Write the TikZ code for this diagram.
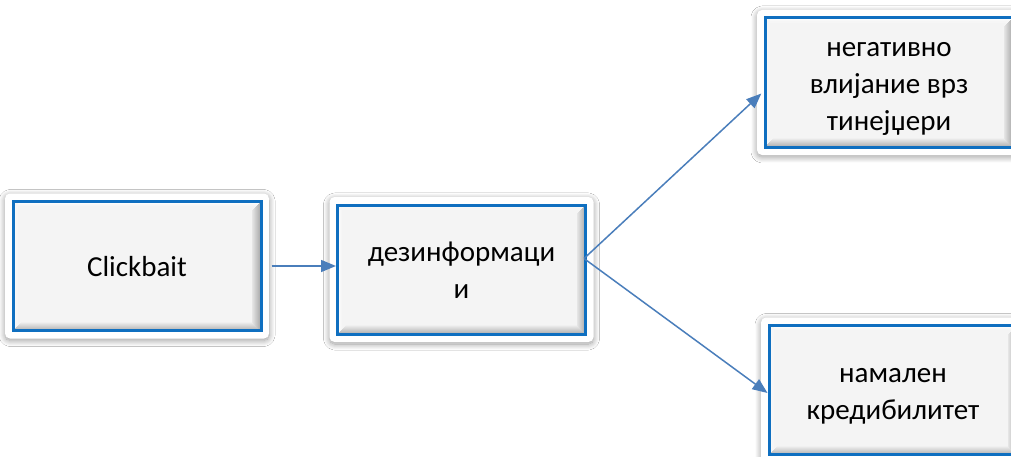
\documentclass[tikz,border=0pt]{standalone}
\usepackage{fontspec}
\setmainfont{Carlito}
\usetikzlibrary{arrows.meta,backgrounds,shadows.blur}

\definecolor{boxblue}{HTML}{0F6FC0}
\definecolor{boxfill}{HTML}{F4F4F4}
\definecolor{linkblue}{HTML}{4A7EBB}

% line strut so that each text line takes its full font height
\newcommand\tstrut{\rule[-0.25em]{0pt}{1.25em}}

\tikzset{
  bevelbox/.style={
    draw=boxblue, line width=3pt, fill=boxfill,
    minimum width=248pt, minimum height=129pt, inner sep=0pt,
    align=center, font=\fontsize{29}{37}\selectfont,
    path picture={
      \coordinate (bsw) at (path picture bounding box.south west);
      \coordinate (bse) at (path picture bounding box.south east);
      \coordinate (bnw) at (path picture bounding box.north west);
      \coordinate (bne) at (path picture bounding box.north east);
      % light top and left edges
      \foreach \i/\c in {1/100,2/70,3/40,4/15}{
        \draw[white!\c!boxfill, line width=1.1pt]
          ([shift={(0,-\i)}]bnw) -- ([shift={(0,-\i)}]bne);
        \draw[white!\c!boxfill, line width=1.1pt]
          ([shift={(\i,0)}]bnw) -- ([shift={(\i,0)}]bsw);
      }
      % darker bottom and right edges
      \foreach \i/\c in {8/6,7/9,6/12,5/15,4/18,3/21,2/24,1/27}{
        \draw[black!\c, line width=1.1pt]
          ([shift={(\i,\i)}]bsw) -- ([shift={(-\i,\i)}]bse);
        \draw[black!\c!boxfill, line width=1.1pt]
          ([shift={(-\i,-\i)}]bne) -- ([shift={(-\i,\i)}]bse);
      }
    }
  },
  frame/.style={
    fill=white, rounded corners=5pt,
    blur shadow={shadow xshift=0pt, shadow yshift=-2pt,
      shadow blur radius=6pt, shadow blur steps=12, shadow opacity=40}
  },
  link/.style={
    draw=linkblue, line width=1.5pt,
    -{Triangle[length=15pt,width=12pt]}
  }
}

\begin{document}
\begin{tikzpicture}[x=1pt,y=1pt]
  \useasboundingbox (0,0) rectangle (1011,456);

  \node[bevelbox] (click) at (137,190)     {\tstrut Clickbait};
  \node[bevelbox] (dez)   at (461.5,186.5) {\tstrut дезинформаци\\\tstrut и};
  \node[bevelbox] (neg)   at (889,373.5)   {\tstrut негативно\\\tstrut влијание врз\\\tstrut тинејџери};
  \node[bevelbox] (nam)   at (893,66)      {\tstrut намален\\\tstrut кредибилитет};

  % page background, then white frames with soft drop shadow behind each box
  \begin{scope}[on background layer]
    \fill[white] (0,0) rectangle (1011,456);
    \foreach \n in {click,dez,neg,nam}{
      \path[frame] ([shift={(-6.5,-6.5)}]\n.south west)
        rectangle ([shift={(6.5,6.5)}]\n.north east);
    }
  \end{scope}

  % connectors
  \coordinate (fork) at ([shift={(-3,11)}]dez.east);
  \draw[link, shorten <=9pt] (click.east) -- (click.east -| dez.west);
  \draw[link, shorten >=3pt] (fork) -- ([yshift=-9]neg.west);
  \draw[link] (fork) -- ([yshift=-3]nam.west);
\end{tikzpicture}
\end{document}
